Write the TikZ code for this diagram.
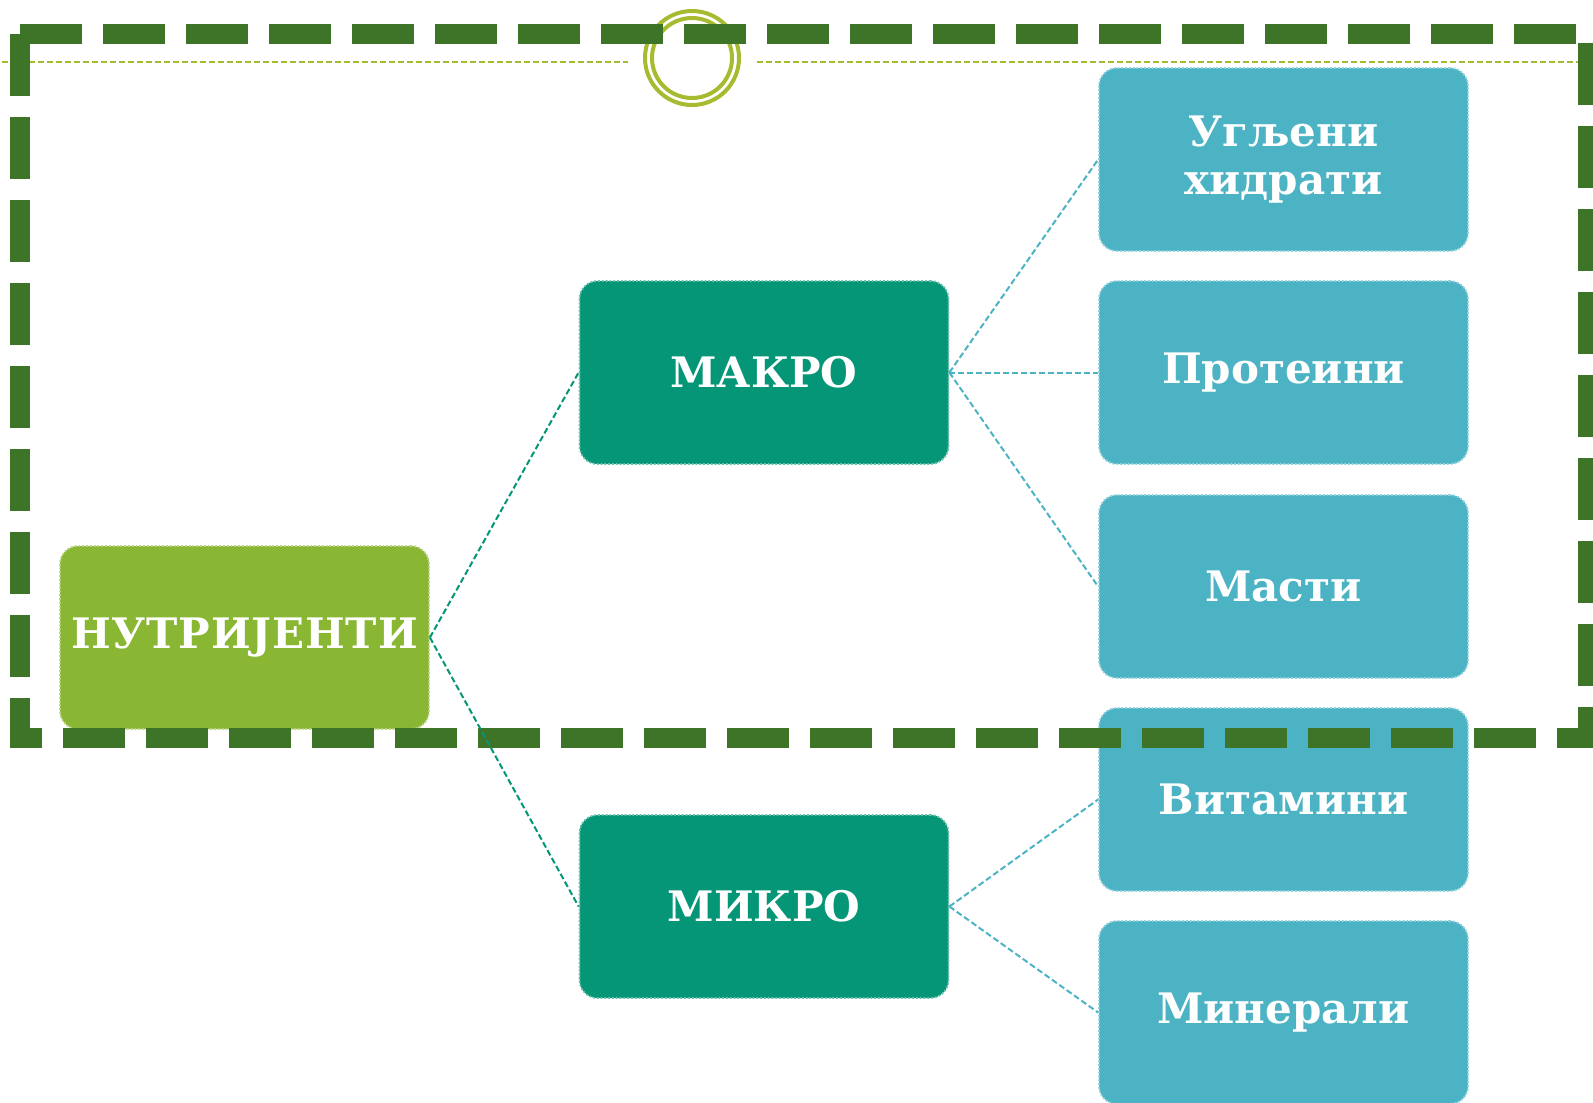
\documentclass[tikz,border=0pt]{standalone}
\usepackage{fontspec}
\setmainfont{DejaVu Serif}
\definecolor{framegreen}{RGB}{61,116,40}
\definecolor{olivegreen}{RGB}{168,186,48}
\definecolor{nutrgreen}{RGB}{138,183,51}
\definecolor{tealbox}{RGB}{4,150,118}
\definecolor{bluebox}{RGB}{75,179,196}
\tikzset{
  boxbase/.style={rectangle, rounded corners=18pt, minimum width=369pt, minimum height=183pt,
    inner sep=0pt, align=center, text=white, line width=1.8pt, dotted,
    font=\fontsize{42}{48}\selectfont\bfseries},
  nutrbox/.style={boxbase, fill=nutrgreen, draw=nutrgreen!60!white},
  tealnode/.style={boxbase, fill=tealbox, draw=tealbox!60!white},
  bluenode/.style={boxbase, fill=bluebox, draw=bluebox!60!white},
  tealconn/.style={draw=tealbox, line width=2pt, dash pattern=on 6pt off 3pt},
  blueconn/.style={draw=bluebox, line width=2pt, dash pattern=on 6pt off 3pt},
}
\begin{document}
\begin{tikzpicture}[x=1pt,y=-1pt]
\useasboundingbox (0,0) rectangle (1593,1103);
% thin dashed line
\draw[olivegreen, line width=2pt, dash pattern=on 6pt off 3pt] (2,62) -- (628,62);
\draw[olivegreen, line width=2pt, dash pattern=on 6pt off 3pt] (757,62) -- (1580,62);
% double ring
\draw[olivegreen, line width=4pt] (692,58) circle (47pt);
\draw[olivegreen, line width=4pt] (692,58) circle (40pt);
% boxes
\node[nutrbox] (nutr) at (244.5,637.5) {\addfontfeatures{LetterSpace=2}НУТРИЈЕНТИ};
\node[tealnode] (makro) at (764,372.5) {МАКРО};
\node[tealnode] (mikro) at (764,906.5) {МИКРО};
\node[bluenode] (ugl) at (1283.5,159.5) {Угљени\\хидрати};
\node[bluenode] (prot) at (1283.5,372.5) {Протеини};
\node[bluenode] (mast) at (1283.5,586.5) {Масти};
\node[bluenode] (vit) at (1283.5,799.5) {Витамини};
\node[bluenode] (min) at (1283.5,1012.5) {Минерали};
% thick dashed frame
\draw[framegreen, line width=20pt, dash pattern=on 62pt off 21pt] (20,34) rectangle (1588,738);
% connectors
\draw[tealconn] (nutr.east) -- (makro.west);
\draw[tealconn] (nutr.east) -- (mikro.west);
\draw[blueconn] (makro.east) -- (ugl.west);
\draw[blueconn] (makro.east) -- (prot.west);
\draw[blueconn] (makro.east) -- (mast.west);
\draw[blueconn] (mikro.east) -- (vit.west);
\draw[blueconn] (mikro.east) -- (min.west);
\end{tikzpicture}
\end{document}
